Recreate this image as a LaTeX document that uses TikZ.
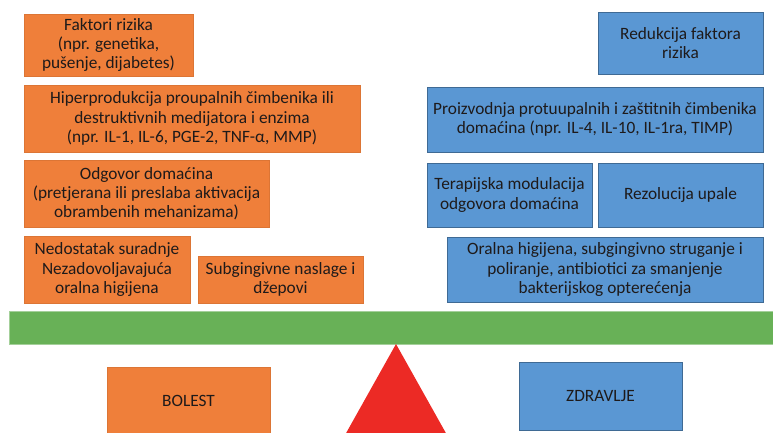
\documentclass[tikz,border=0pt]{standalone}
\usepackage{fontspec}
\setmainfont{Carlito}
\usepackage{tikz}

\definecolor{bolestorange}{HTML}{EF7F3A}
\definecolor{zdravblue}{HTML}{5A97D3}
\definecolor{polugagreen}{HTML}{68B157}
\definecolor{osloracred}{HTML}{EC2A25}
\definecolor{tekst}{HTML}{1E1A1A}

\tikzset{
	kutija/.style={align=center, inner sep=0pt, text=tekst,
		font=\fontsize{17.3}{19.3}\selectfont},
	bolest/.style={kutija, fill=bolestorange, draw=bolestorange!92!black, line width=0.5pt},
	zdrav/.style={kutija, fill=zdravblue, draw=zdravblue!70!black, line width=0.6pt},
}

\begin{document}
\begin{tikzpicture}[x=1pt, y=-1pt]

	% ---- frame

	\useasboundingbox (0,0) rectangle (773,432);
	\clip (0,0) rectangle (773,432);

	% ---- left side (bolest)

	\node[bolest, minimum width=169, minimum height=62] (faktori) at (108.5,45)
		{Faktori rizika\\(npr. genetika,\\pušenje, dijabetes)};
	\node[bolest, minimum width=336, minimum height=67] (hiper) at (192,118.5)
		{Hiperprodukcija proupalnih čimbenika ili\\destruktivnih medijatora i enzima\\(npr. IL-1, IL-6, PGE-2, TNF-α, MMP)};
	\node[bolest, minimum width=245, minimum height=67] (odgovor) at (146.5,193.5)
		{Odgovor domaćina\\(pretjerana ili preslaba aktivacija\\obrambenih mehanizama)};
	\node[bolest, minimum width=166, minimum height=67] (suradnja) at (107,269.5)
		{Nedostatak suradnje\\Nezadovoljavajuća\\oralna higijena};
	\node[bolest, minimum width=165, minimum height=47] (naslage) at (280.5,279.5)
		{Subgingivne naslage i\\džepovi};

	% ---- right side (zdravlje)

	\node[zdrav, minimum width=165, minimum height=62] (redukcija) at (680.5,43)
		{Redukcija faktora\\rizika};
	\node[zdrav, minimum width=336, minimum height=65] (proizvodnja) at (595,119.5)
		{Proizvodnja protuupalnih i zaštitnih čimbenika\\domaćina (npr. IL-4, IL-10, IL-1ra, TIMP)};
	\node[zdrav, minimum width=165, minimum height=64] (terapija) at (509.5,195)
		{Terapijska modulacija\\odgovora domaćina};
	\node[zdrav, minimum width=165, minimum height=64] (rezolucija) at (680.5,195)
		{Rezolucija upale};
	\node[zdrav, minimum width=316, minimum height=65] (higijena) at (605,269.5)
		{Oralna higijena, subgingivno struganje i\\poliranje, antibiotici za smanjenje\\bakterijskog opterećenja};

	% ---- scale

	\fill[polugagreen, draw=polugagreen!60!white, line width=0.5pt] (9,311) rectangle (790,344);
	\coordinate (vrh) at (396,344);
	\fill[osloracred] (vrh) -- (331,460) -- (461,460) -- cycle;

	\node[bolest, minimum width=163, minimum height=68] (bolest) at (188.5,401) {BOLEST};
	\node[zdrav, minimum width=163, minimum height=68] (zdravlje) at (600.5,396) {ZDRAVLJE};

\end{tikzpicture}
\end{document}
